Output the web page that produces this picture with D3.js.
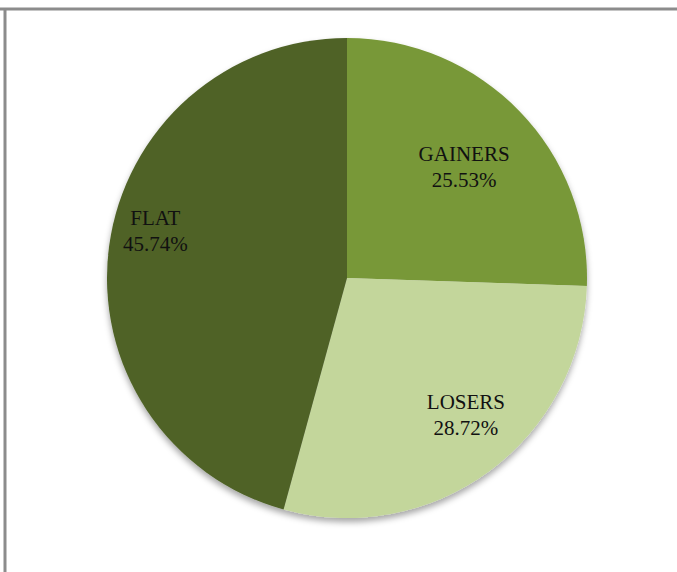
<!DOCTYPE html>
<html>
<head>
<meta charset="utf-8">
<script src="https://cdn.jsdelivr.net/npm/d3@7"></script>
<style>
  body { margin: 0; background: #fff; }
  svg { display: block; }
  text { font-family: "Liberation Serif", "DejaVu Serif", serif; font-size: 21px; fill: #111; }
</style>
</head>
<body>
<svg id="chart" width="677" height="572"></svg>
<script>
const categories = ['GAINERS', 'LOSERS', 'FLAT'];
const shares = [25.53, 28.72, 45.74];
const colors = ['#789838', '#c3d69b', '#4f6228'];
// label nudges from the centroid, Excel "best fit" style
const labelNudge = [[2, 0], [24, 8], [-33, -26]];

const width = 677, height = 572;
const cx = 347, cy = 278, radius = 240;

const svg = d3.select('#chart');

// frame lines (top and left only)
svg.append('line').attr('x1', 0).attr('x2', width).attr('y1', 9).attr('y2', 9)
  .attr('stroke', '#8c8c8c').attr('stroke-width', 3);
svg.append('line').attr('x1', 5).attr('x2', 5).attr('y1', 8).attr('y2', height)
  .attr('stroke', '#8c8c8c').attr('stroke-width', 3);

const defs = svg.append('defs');
defs.append('filter').attr('id', 'shadow')
  .attr('x', '-20%').attr('y', '-20%').attr('width', '140%').attr('height', '140%')
  .append('feDropShadow')
    .attr('dx', 0).attr('dy', 4).attr('stdDeviation', 3)
    .attr('flood-color', '#000').attr('flood-opacity', 0.35);

const pie = d3.pie().sort(null).value(d => d);
const arcs = pie(shares);

const arc = d3.arc().innerRadius(0).outerRadius(radius);
const labelArc = d3.arc().innerRadius(radius * 0.667).outerRadius(radius * 0.667);

const g = svg.append('g').attr('transform', `translate(${cx},${cy})`);

g.append('g').attr('filter', 'url(#shadow)')
  .selectAll('path')
  .data(arcs)
  .join('path')
    .attr('d', arc)
    .attr('fill', (d, i) => colors[i]);

const labels = g.selectAll('text.lbl')
  .data(arcs)
  .join('text')
    .attr('class', 'lbl')
    .attr('text-anchor', 'middle')
    .attr('transform', (d, i) => {
      const [x, y] = labelArc.centroid(d);
      return `translate(${x + labelNudge[i][0]},${y + labelNudge[i][1]})`;
    });

labels.append('tspan').attr('x', 0).attr('y', -6).text((d, i) => categories[i]);
labels.append('tspan').attr('x', 0).attr('y', 20).text((d, i) => d3.format('.2f')(shares[i]) + '%');
</script>
</body>
</html>
